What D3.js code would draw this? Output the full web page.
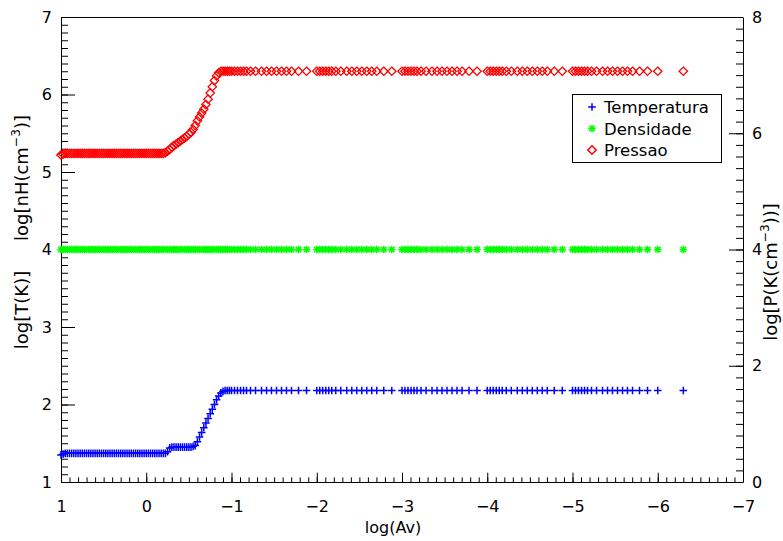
<!DOCTYPE html>
<html><head><meta charset="utf-8">
<script src="https://cdn.jsdelivr.net/npm/d3@7"></script>
<style>
body{margin:0;background:#fff}
svg text{font-family:"DejaVu Sans",sans-serif;fill:#000}
</style>
</head><body>
<svg id="c" width="783" height="541"></svg>
<script>
// ---------- data ----------
const xTicks = [1, 0, -1, -2, -3, -4, -5, -6, -7];
const yLeftTicks = [1, 2, 3, 4, 5, 6, 7];
const yRightTicks = [0, 2, 4, 6, 8];
const seriesNames = ["Temperatura", "Densidade", "Pressao"];

// inner (dense) part of the run: log(Av) from 1 to about -1
const logAvInner = [
  1, 0.975, 0.95, 0.925, 0.9, 0.875, 0.85, 0.825, 0.8, 0.775,
  0.75, 0.725, 0.7, 0.675, 0.65, 0.625, 0.6, 0.575, 0.55, 0.525,
  0.5, 0.475, 0.45, 0.425, 0.4, 0.375, 0.35, 0.325, 0.3, 0.275,
  0.25, 0.225, 0.2, 0.175, 0.15, 0.125, 0.1, 0.075, 0.05, 0.025,
  0, -0.025, -0.05, -0.075, -0.1, -0.125, -0.15, -0.175, -0.2, -0.225,
  -0.25, -0.275, -0.3, -0.325, -0.35, -0.375, -0.4, -0.425, -0.45, -0.475,
  -0.5, -0.525, -0.55, -0.575, -0.6, -0.625, -0.65, -0.675, -0.7, -0.725,
  -0.75, -0.775, -0.8, -0.825, -0.85, -0.875, -0.9, -0.925, -0.95, -0.975
];
const temperaturaInner = [
  1.35, 1.36, 1.37, 1.37, 1.37, 1.37, 1.37, 1.37, 1.37, 1.37,
  1.37, 1.37, 1.37, 1.37, 1.37, 1.37, 1.37, 1.37, 1.37, 1.37,
  1.37, 1.37, 1.37, 1.37, 1.37, 1.37, 1.37, 1.37, 1.37, 1.37,
  1.37, 1.37, 1.37, 1.37, 1.37, 1.37, 1.37, 1.37, 1.37, 1.37,
  1.37, 1.37, 1.37, 1.37, 1.37, 1.37, 1.37, 1.37, 1.37, 1.37,
  1.39, 1.44, 1.45, 1.45, 1.45, 1.45, 1.45, 1.45, 1.45, 1.45,
  1.45, 1.45, 1.46, 1.47, 1.52, 1.58, 1.64, 1.70, 1.76, 1.82,
  1.88, 1.94, 2.00, 2.06, 2.11, 2.15, 2.17, 2.18, 2.18, 2.18
];
const pressaoInner = [
  5.22, 5.23, 5.24, 5.24, 5.24, 5.24, 5.24, 5.24, 5.24, 5.24,
  5.24, 5.24, 5.24, 5.24, 5.24, 5.24, 5.24, 5.24, 5.24, 5.24,
  5.24, 5.24, 5.24, 5.24, 5.24, 5.24, 5.24, 5.24, 5.24, 5.24,
  5.24, 5.24, 5.24, 5.24, 5.24, 5.24, 5.24, 5.24, 5.24, 5.24,
  5.24, 5.24, 5.24, 5.24, 5.24, 5.24, 5.24, 5.24, 5.24, 5.25,
  5.27, 5.29, 5.32, 5.34, 5.36, 5.38, 5.40, 5.42, 5.44, 5.46,
  5.49, 5.51, 5.55, 5.60, 5.66, 5.71, 5.76, 5.81, 5.87, 5.94,
  6.02, 6.10, 6.18, 6.24, 6.28, 6.30, 6.30, 6.30, 6.30, 6.30
];

// outer (sparse) part: same pattern of samples repeated in each decade
const decadeStarts = [-1, -2, -3, -4, -5];
const decadeOffsets = [0, 0.035, 0.07, 0.106, 0.141, 0.176, 0.223, 0.282, 0.352,
                       0.411, 0.469, 0.528, 0.587, 0.645, 0.704, 0.786, 0.88];
const logAvLast = [-6, -6.3];
const temperaturaOuter = 2.18;
const pressaoOuter = 6.30;
const densidade = 4.0;

// ---------- build table ----------
const rows = [];
logAvInner.forEach((x, i) => rows.push({x, T: temperaturaInner[i], n: densidade, P: pressaoInner[i]}));
decadeStarts.forEach(d => decadeOffsets.forEach(o => rows.push({x: d - o, T: temperaturaOuter, n: densidade, P: pressaoOuter})));
logAvLast.forEach(x => rows.push({x, T: temperaturaOuter, n: densidade, P: pressaoOuter}));

// ---------- layout ----------
const L = 61, R = 743, T0 = 17, B = 482;
const svg = d3.select("#c");
const x = d3.scaleLinear().domain([1, -7]).range([L, R]);
const yL = d3.scaleLinear().domain([1, 7]).range([B, T0]);
const yR = d3.scaleLinear().domain([0, 8]).range([B, T0]);

const fmt = d => (d < 0 ? "\u2212" + Math.abs(d) : String(d));
const xMinor = d3.range(1, -7.0001, -0.1).map(v => +v.toFixed(2));
const yLMinor = d3.range(1, 7.0001, 0.1).map(v => +v.toFixed(2));
const yRMinor = d3.range(0, 8.0001, 0.2).map(v => +v.toFixed(2));

const axes = svg.append("g").attr("font-size", 16);

// bottom axis
const gb = axes.append("g").attr("transform", `translate(0,${B})`);
gb.call(d3.axisBottom(x).tickValues(xMinor).tickSizeInner(-4.6).tickSizeOuter(0).tickFormat(""));
gb.call(g => g.select(".domain").remove());
const gb2 = axes.append("g").attr("transform", `translate(0,${B})`);
gb2.call(d3.axisBottom(x).tickValues(xTicks).tickSizeInner(-9.3).tickSizeOuter(0).tickPadding(19).tickFormat(fmt));

// left axis
const gl = axes.append("g").attr("transform", `translate(${L},0)`);
gl.call(d3.axisLeft(yL).tickValues(yLMinor).tickSizeInner(-7).tickSizeOuter(0).tickFormat(""));
gl.call(g => g.select(".domain").remove());
const gl2 = axes.append("g").attr("transform", `translate(${L},0)`);
gl2.call(d3.axisLeft(yL).tickValues(yLeftTicks).tickSizeInner(-14).tickSizeOuter(0).tickPadding(9).tickFormat(fmt));

// right axis
const gr = axes.append("g").attr("transform", `translate(${R},0)`);
gr.call(d3.axisRight(yR).tickValues(yRMinor).tickSizeInner(-7).tickSizeOuter(0).tickFormat(""));
gr.call(g => g.select(".domain").remove());
const gr2 = axes.append("g").attr("transform", `translate(${R},0)`);
gr2.call(d3.axisRight(yR).tickValues(yRightTicks).tickSizeInner(-14).tickSizeOuter(0).tickPadding(9).tickFormat(fmt));

// top line
axes.append("line").attr("x1", L).attr("x2", R).attr("y1", T0 + 0.5).attr("y2", T0 + 0.5).attr("stroke", "#000");

axes.selectAll("text").attr("font-family", "DejaVu Sans").attr("font-size", 16).attr("fill", "#000");
axes.selectAll("path.domain, line").attr("stroke", "#000").attr("stroke-width", 1);

// ---------- titles ----------
svg.append("text").attr("x", 393).attr("y", 533).attr("text-anchor", "middle")
  .attr("font-size", 16).text("log(Av)");

function titleWithSup(parent, pre, sup, post, fs) {
  const t = parent.append("text").attr("font-size", fs).attr("text-anchor", "middle");
  t.append("tspan").text(pre);
  t.append("tspan").attr("font-size", fs * 0.68).attr("dy", -fs * 0.45).text(sup);
  t.append("tspan").attr("dy", fs * 0.45).text(post);
  return t;
}
svg.append("text").attr("transform", "translate(28,310) rotate(-90)").attr("text-anchor", "middle")
  .attr("font-size", 18).text("log[T(K)]");
titleWithSup(svg.append("g").attr("transform", "translate(28,178) rotate(-90)"), "log[nH(cm", "\u22123", ")]", 18);
titleWithSup(svg.append("g").attr("transform", "translate(777,272) rotate(-90)"), "log[P(K(cm", "\u22123", "))]", 18);

// ---------- markers ----------
const plusPath = "M-3.8,0H3.8M0,-3.8V3.8";
const starPath = "M-3.8,0H3.8M0,-3.8V3.8M-2.8,-2.8L2.8,2.8M-2.8,2.8L2.8,-2.8";
const diamondPath = "M0,-4.2L4.2,0L0,4.2L-4.2,0Z";

const plot = svg.append("g");
plot.append("g").selectAll("path").data(rows).join("path")
  .attr("transform", d => `translate(${x(d.x)},${yL(d.T)})`)
  .attr("d", plusPath).attr("stroke", "#0000ff").attr("stroke-width", 1.5).attr("fill", "none");
plot.append("g").selectAll("path").data(rows).join("path")
  .attr("transform", d => `translate(${x(d.x)},${yL(d.n)})`)
  .attr("d", starPath).attr("stroke", "#00ff00").attr("stroke-width", 1.5).attr("fill", "none");
plot.append("g").selectAll("path").data(rows).join("path")
  .attr("transform", d => `translate(${x(d.x)},${yL(d.P)})`)
  .attr("d", diamondPath).attr("stroke", "#ff0000").attr("stroke-width", 1.3).attr("fill", "none");

// ---------- legend ----------
const lg = svg.append("g");
lg.append("rect").attr("x", 572.5).attr("y", 94.5).attr("width", 149).attr("height", 68)
  .attr("fill", "#fff").attr("stroke", "#000").attr("stroke-width", 1);
const legendPaths = [plusPath, starPath, diamondPath];
const legendColors = ["#0000ff", "#00ff00", "#ff0000"];
seriesNames.forEach((name, i) => {
  const yy = 107 + i * 21.5;
  lg.append("path").attr("transform", `translate(592,${yy})`).attr("d", legendPaths[i])
    .attr("stroke", legendColors[i]).attr("stroke-width", 1.5).attr("fill", "none");
  lg.append("text").attr("x", 604).attr("y", yy + 6).attr("font-size", 16.5).text(name);
});
</script>
</body></html>
